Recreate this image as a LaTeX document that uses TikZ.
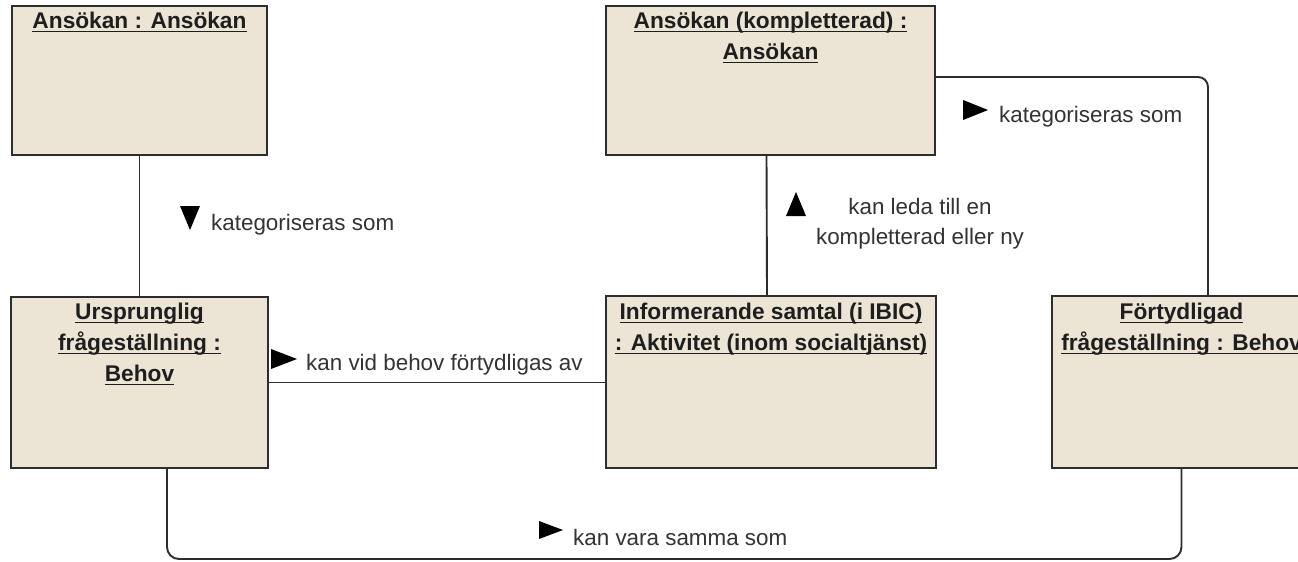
\documentclass[tikz,border=0pt]{standalone}
\usepackage{fontspec}
\setmainfont{Liberation Sans}
\newcommand\myul[1]{\setbox0\hbox{#1}\rlap{\rule[-3.4pt]{\wd0}{1.6pt}}\box0}
\usetikzlibrary{calc}
\definecolor{boxfill}{RGB}{236,229,214}
\definecolor{edge}{RGB}{45,45,45}
\definecolor{ink}{RGB}{30,30,30}
\definecolor{lbl}{RGB}{51,51,51}
\begin{document}
\begin{tikzpicture}[x=1pt,y=-1pt,
  umlbox/.style={draw=edge, line width=2.4pt, fill=boxfill, inner sep=0pt},
  ttl/.style={anchor=base, align=center, inner sep=0pt, text=ink, font=\fontsize{22.7}{31}\selectfont\bfseries},
  lab/.style={anchor=base west, inner sep=0pt, text=lbl, font=\fontsize{22.4}{30}\selectfont},
  labc/.style={anchor=base, align=center, inner sep=0pt, text=lbl, font=\fontsize{22.4}{30}\selectfont},
  conn/.style={draw=edge, line width=1.9pt},
  tri/.style={fill=black}]
\clip (0,0) rectangle (1298,562);
\fill[white] (0,0) rectangle (1298,562);
% boxes
\node[umlbox, minimum width=255pt, minimum height=149pt] (b1) at (139.5,80.5) {};
\node[umlbox, minimum width=329pt, minimum height=149pt] (b2) at (770.5,80.5) {};
\node[umlbox, minimum width=257pt, minimum height=171pt] (b3) at (139.5,382.5) {};
\node[umlbox, minimum width=330pt, minimum height=172pt] (b4) at (771,382) {};
\node[umlbox, minimum width=259pt, minimum height=172pt] (b5) at (1181.5,382) {};
% titles (anchor base = baseline of the last line)
\node[ttl] (t1) at ($(b1.north)+(0,24)$) {\myul{Ansökan : Ansökan}};
\node[ttl] (t2) at ($(b2.north)+(0,55)$) {\myul{Ansökan (kompletterad) :}\\\myul{Ansökan}};
\node[ttl] (t3) at ($(b3.north)+(0,86)$) {\myul{Ursprunglig}\\\myul{frågeställning :}\\\myul{Behov}};
\node[ttl] (t4) at ($(b4.north)+(0,56)$) {\myul{Informerande samtal (i IBIC)}\\\myul{: Aktivitet (inom socialtjänst)}};
\node[ttl] (t5) at ($(b5.north)+(0,56)$) {\myul{Förtydligad}\\\myul{frågeställning : Behov}};
% connectors
\coordinate (yr) at (0,77);
\coordinate (yb) at (0,559);
\draw[conn] (b1) -- (b3);
\draw[conn] ([xshift=-4pt]b2.south) -- ([xshift=-4pt]b4.north);
\draw[conn] (b3.east) -- (b3.east -| b4.west);
\draw[conn, rounded corners=10pt] (b2.east |- yr) -| ([xshift=26.5pt]b5.north);
\draw[conn, rounded corners=12pt] ([xshift=27.5pt]b3.south) |- (yb -| b5.south) -- (b5.south);
% labels
\fill[tri] (180,206) -- (200,206) -- (190,230) -- cycle;
\node[lab] (l1) at (211,230) {kategoriseras som};
\fill[tri] (786,216) -- (806,216) -- (796,192) -- cycle;
\node[labc] (l2) at (920,244) {kan leda till en\\kompletterad eller ny};
\fill[tri] (271,349) -- (297,359) -- (271,369) -- cycle;
\node[lab] (l3) at (306,370) {kan vid behov förtydligas av};
\fill[tri] (963,100) -- (988,110) -- (963,120) -- cycle;
\node[lab] (l4) at (999,122) {kategoriseras som};
\fill[tri] (539,521) -- (563,530) -- (539,539) -- cycle;
\node[lab] (l5) at (573,545) {kan vara samma som};
\end{tikzpicture}
\end{document}
